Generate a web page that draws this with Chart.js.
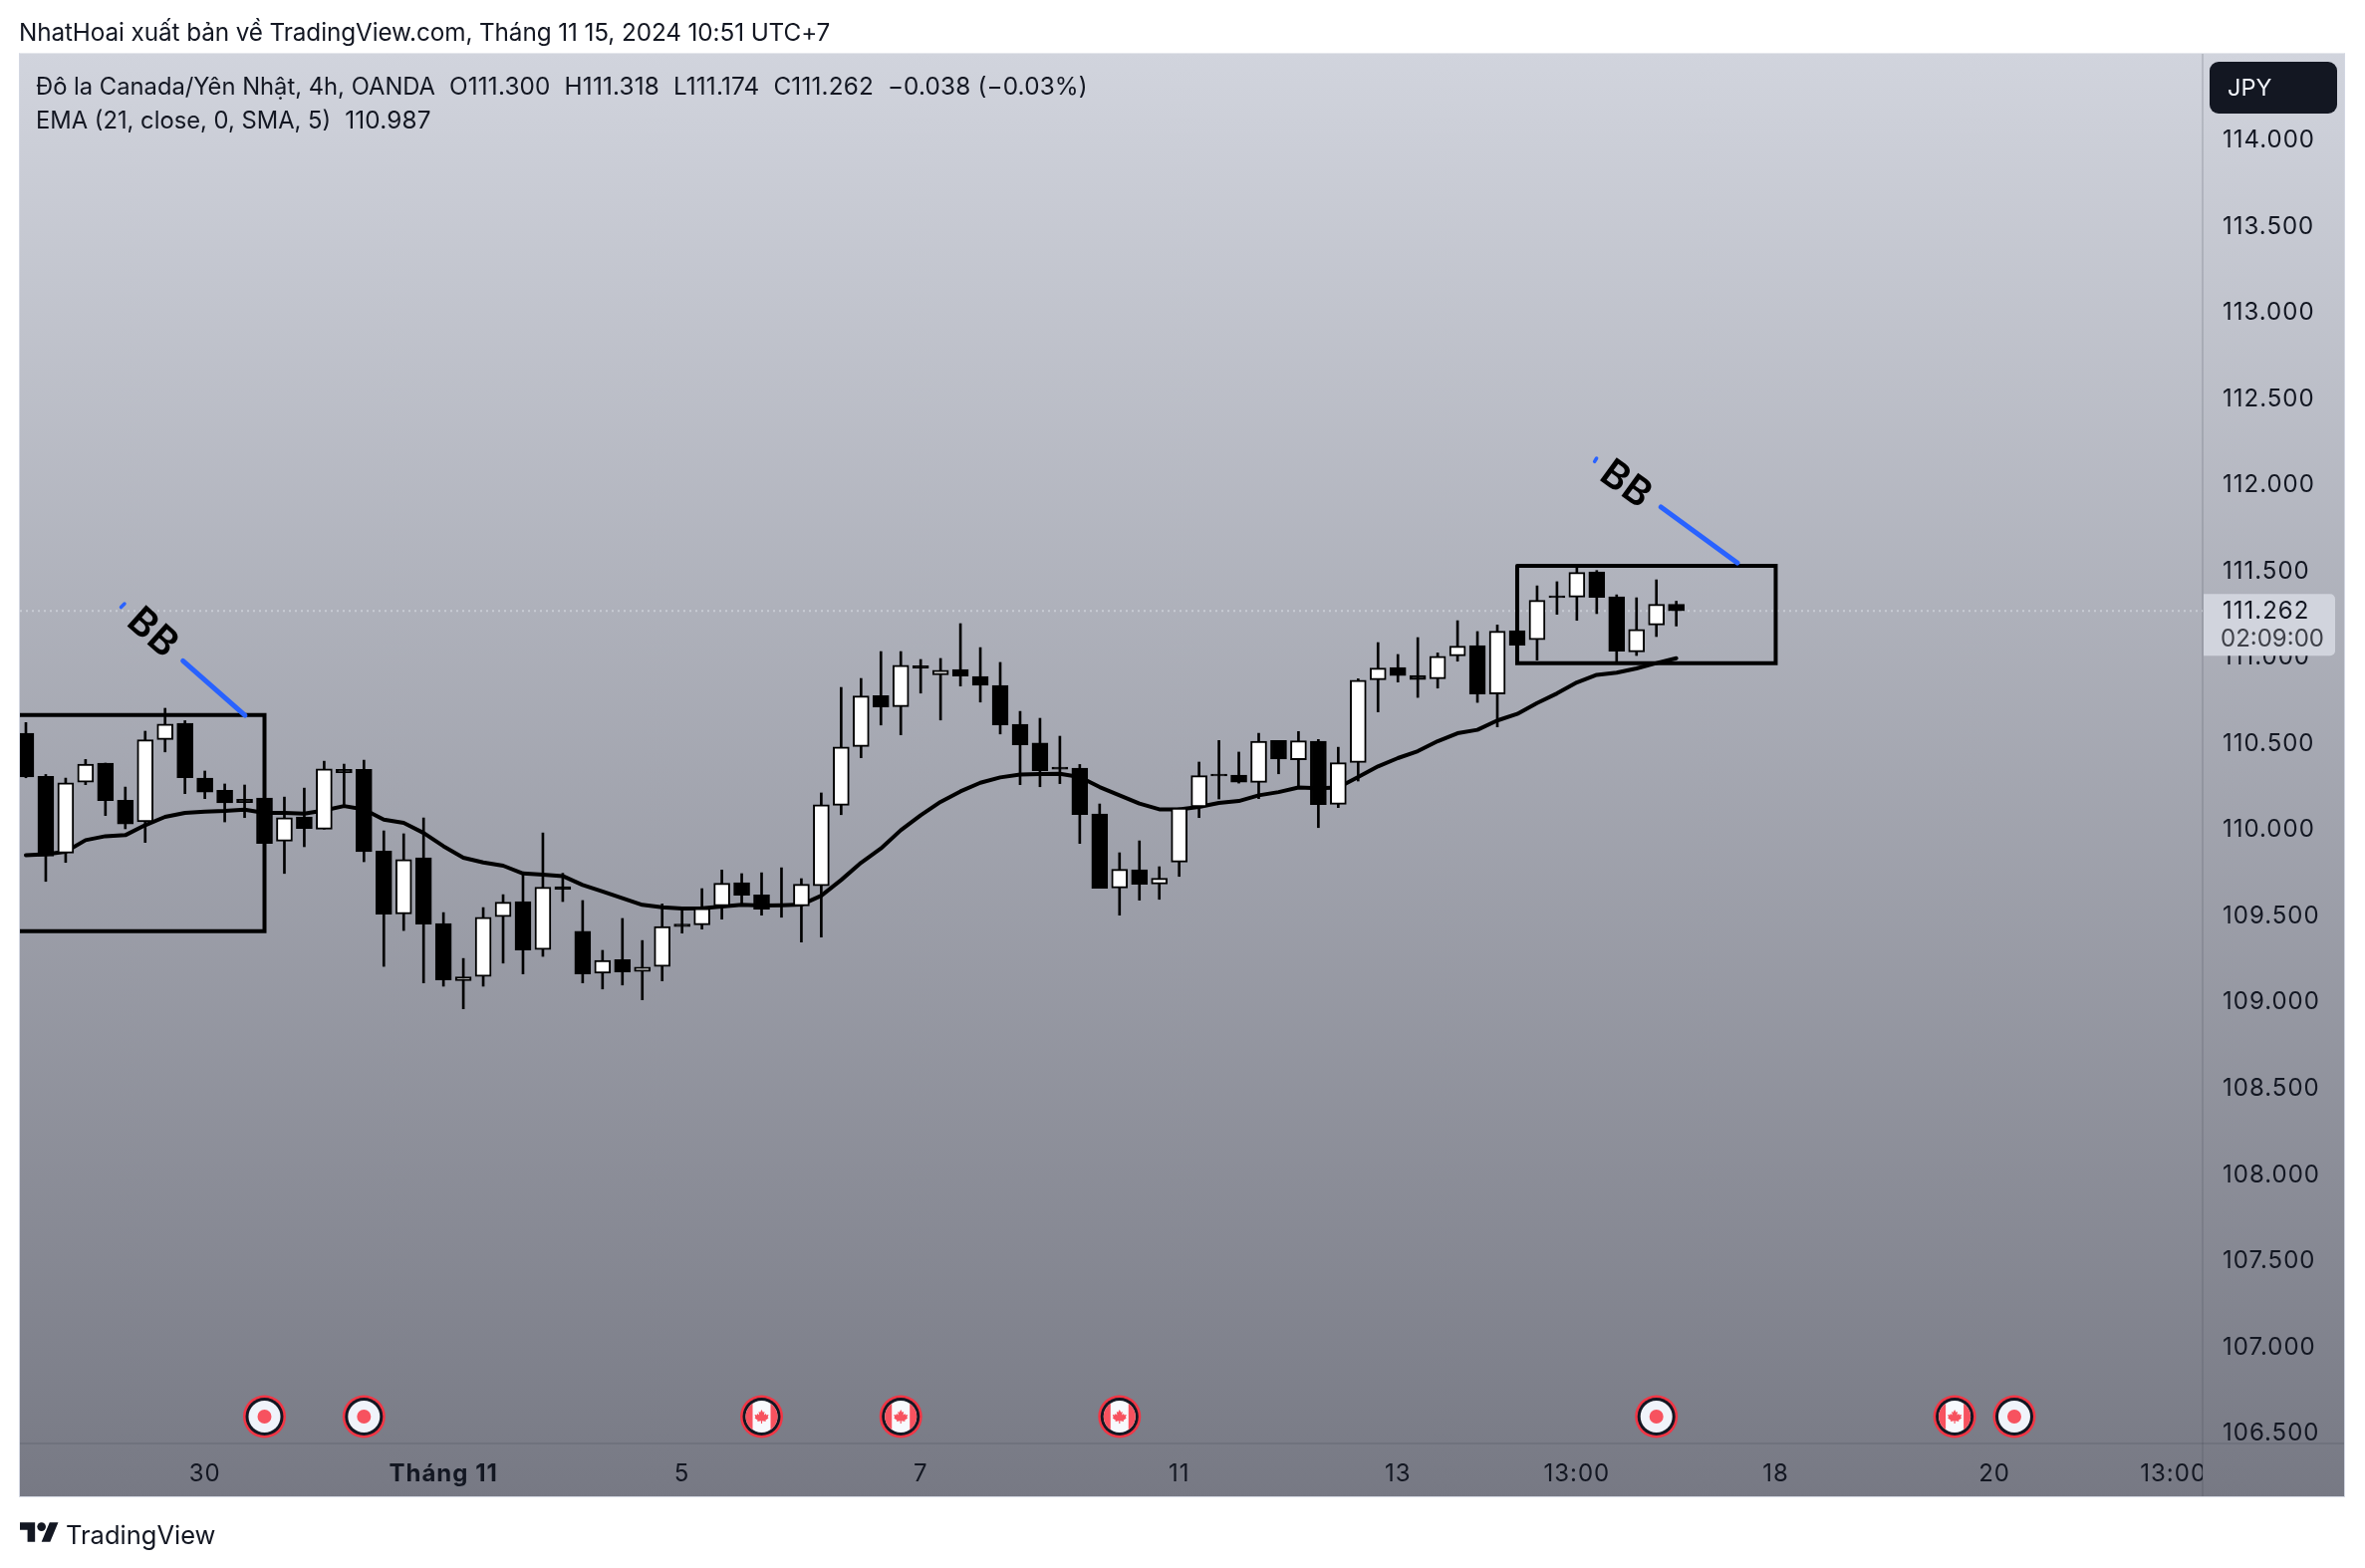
<!DOCTYPE html>
<html lang="vi">
<head>
<meta charset="utf-8">
<title>CAD/JPY 4h</title>
<script src="https://cdn.jsdelivr.net/npm/chart.js@4"></script>
<style>
  html, body { margin: 0; background: #fff; width: 2374px; height: 1574px; overflow: hidden; }
  body { font-family: Inter, "Noto Sans", sans-serif; color: #131722; position: relative; }
  .abs { position: absolute; white-space: pre; line-height: 1; }
  .name { font-size: 23.76px; }
  .vals { font-size: 24.3px; letter-spacing: .17px; }
  #panel { position: absolute; left: 20px; top: 53px; width: 2334px; height: 1450px;
           background: linear-gradient(180deg, #d1d4dd 0%, #777984 100%); }
  #panelEdge { position: absolute; left: 19px; top: 53px; width: 2335px; height: 1450px; box-sizing: border-box;
               border: 1px solid #d3d7e2; border-top-color: #e4e6ec; }
  #axisV { position: absolute; left: 2210px; top: 53px; width: 2px; height: 1450px; background: rgba(60,64,80,.17); }
  #axisH { position: absolute; left: 20px; top: 1448px; width: 2334px; height: 2px; background: rgba(60,64,80,.17); }
  canvas { position: absolute; left: 0; top: 0; }
  #unit { left: 2218px; top: 62px; width: 128px; height: 52px; background: #131722; border-radius: 9px; }
  #unitText { left: 2236px; top: 76px; font-size: 23.5px; color: #f0f3fa; }
</style>
</head>
<body>
<div id="panel"></div>
<div id="axisV"></div>
<div id="axisH"></div>
<canvas id="chart" width="2374" height="1574"></canvas>
<div id="panelEdge"></div>
<div class="abs" style="left:19px;top:20px;font-size:24.3px;letter-spacing:-.1px" id="published"></div>
<div class="abs" style="left:36px;top:74px"><span class="name" id="symbolName"></span><span class="vals" id="symbolValues"></span></div>
<div class="abs" style="left:36px;top:108px"><span class="name" id="emaName"></span><span class="vals" id="emaValue"></span></div>
<div class="abs" id="unit"></div>
<div class="abs" id="unitText">JPY</div>
<svg class="abs" style="left:20px;top:1528px" width="39" height="20" viewBox="0 4 36 18" fill="#131722">
  <path d="M14 22H7V11H0V4h14v18zM28 22h-8l7.5-18h8L28 22z"/><circle cx="20" cy="8" r="4"/>
</svg>
<div class="abs" style="left:66px;top:1528px;font-size:25.5px" id="brand"></div>

<script>
// CAD/JPY 4h candles, oldest first
const opens = [110.552,110.302,109.857,110.269,110.379,110.163,110.038,110.516,110.610,110.292,110.221,110.169,110.177,109.926,110.067,109.996,110.342,110.342,109.869,109.504,109.830,109.449,109.117,109.142,109.489,109.576,109.298,109.662,109.403,109.160,109.239,109.171,109.200,109.445,109.441,109.551,109.686,109.614,109.562,109.551,109.668,110.134,110.475,110.770,110.706,110.943,110.891,110.922,110.882,110.830,110.604,110.495,110.356,110.350,110.084,109.655,109.761,109.678,109.805,110.125,110.315,110.310,110.267,110.510,110.398,110.506,110.140,110.383,110.862,110.934,110.887,110.868,111.001,111.061,110.780,111.147,111.095,111.350,111.342,111.488,111.344,111.024,111.180,111.300];
const highs = [110.614,110.313,110.292,110.400,110.379,110.240,110.564,110.697,110.625,110.333,110.258,110.252,110.177,110.182,110.234,110.390,110.373,110.396,109.986,109.969,110.061,109.512,109.246,109.541,109.616,109.739,109.974,109.740,109.582,109.293,109.478,109.350,109.562,109.528,109.651,109.759,109.738,109.743,109.772,109.709,110.206,110.818,110.870,111.026,111.026,110.980,110.986,111.188,111.049,110.963,110.679,110.639,110.535,110.371,110.142,109.859,109.928,109.778,110.119,110.385,110.510,110.443,110.552,110.510,110.562,110.516,110.471,110.868,111.078,111.009,111.107,111.018,111.205,111.142,111.180,111.150,111.407,111.431,111.521,111.496,111.355,111.338,111.442,111.318];
const lows = [110.294,109.693,109.803,110.254,110.075,109.998,109.919,110.444,110.202,110.173,110.038,110.063,109.913,109.739,109.894,109.996,110.125,109.807,109.200,109.408,109.104,109.085,108.954,109.085,109.219,109.156,109.258,109.576,109.104,109.069,109.092,109.006,109.116,109.393,109.416,109.474,109.562,109.497,109.485,109.341,109.370,110.080,110.410,110.600,110.543,110.785,110.629,110.826,110.733,110.548,110.254,110.242,110.260,109.913,109.653,109.497,109.584,109.589,109.722,110.063,110.171,110.263,110.173,110.317,110.236,110.005,110.121,110.275,110.676,110.849,110.760,110.814,110.970,110.731,110.589,111.060,110.976,111.242,111.207,111.246,110.953,111.003,111.113,111.174];
const closes = [110.298,109.840,110.265,110.373,110.161,110.026,110.514,110.606,110.294,110.211,110.148,110.150,109.913,110.063,109.999,110.346,110.323,109.865,109.503,109.820,109.445,109.121,109.140,109.485,109.572,109.295,109.659,109.647,109.156,109.235,109.168,109.196,109.431,109.431,109.537,109.682,109.612,109.532,109.547,109.676,110.138,110.473,110.768,110.704,110.947,110.930,110.918,110.884,110.830,110.600,110.485,110.335,110.344,110.080,109.653,109.763,109.676,109.711,110.119,110.306,110.304,110.269,110.506,110.402,110.508,110.138,110.381,110.860,110.930,110.887,110.864,110.999,111.057,110.780,111.144,111.063,111.323,111.338,111.485,111.340,111.028,111.155,111.300,111.262];

// EMA(21) readings, one per candle
const emaValues = [109.845,109.851,109.865,109.932,109.955,109.961,110.019,110.067,110.090,110.098,110.102,110.109,110.090,110.090,110.086,110.105,110.130,110.111,110.051,110.032,109.974,109.897,109.830,109.803,109.784,109.739,109.732,109.724,109.672,109.634,109.595,109.557,109.543,109.535,109.537,109.547,109.557,109.553,109.555,109.558,109.610,109.701,109.801,109.884,109.990,110.076,110.154,110.215,110.265,110.296,110.313,110.315,110.317,110.298,110.240,110.192,110.144,110.111,110.111,110.125,110.148,110.159,110.192,110.211,110.238,110.233,110.237,110.298,110.360,110.408,110.448,110.506,110.552,110.572,110.626,110.664,110.727,110.783,110.847,110.891,110.903,110.928,110.959,110.987];

// Time axis: bar index of each labelled tick
const timeTickBars = [9, 21, 33, 45, 58, 69, 78, 88, 99, 108];
const timeTickLabels = ["30", "Tháng 11", "5", "7", "11", "13", "13:00", "18", "20", "13:00"];
const monthTickBar = 21;

// Price axis
const priceTicks = [106.5,107,107.5,108,108.5,109,109.5,110,110.5,111,111.5,112,112.5,113,113.5,114];
const priceMin = 106.433, priceMax = 114.4986;
const barMin = -0.3, barMax = 109.47;
const lastPrice = 111.262;
const countdown = "02:09:00";

// Economic calendar badges
const eventBars = [12, 17, 37, 44, 55, 82, 97, 100];
const eventKinds = ["dot", "dot", "ca", "ca", "ca", "dot", "ca", "dot"];

// Chart drawings, anchored as [bar, price]
const boxLeftX = [-3, 12, 12, -3];
const boxLeftY = [110.658, 110.658, 109.404, 109.404];
const boxRightX = [75, 88, 88, 75, 75];
const boxRightY = [111.523, 111.523, 110.958, 110.958, 111.523];
const arrowLeftX = [7.90, 11.02], arrowLeftY = [110.972, 110.656];
const stubLeftX = [4.785, 4.96], stubLeftY = [111.283, 111.303];
const arrowRightX = [82.23, 86.07], arrowRightY = [111.864, 111.540];
const stubRightX = [78.89, 78.99], stubRightY = [112.128, 112.147];
const noteBars = [6.41, 80.5], notePrices = [111.136, 111.998], noteAngles = [42, 36];
const noteText = "BB";

// Header and footer text
document.getElementById("published").textContent = "NhatHoai xuất bản về TradingView.com, Tháng 11 15, 2024 10:51 UTC+7";
document.getElementById("symbolName").textContent = "Đô la Canada/Yên Nhật, 4h, OANDA";
document.getElementById("symbolValues").textContent = "  O111.300  H111.318  L111.174  C111.262  −0.038 (−0.03%)";
document.getElementById("emaName").textContent = "EMA (21, close, 0, SMA, 5)";
document.getElementById("emaValue").textContent = "  110.987";
document.getElementById("brand").textContent = "TradingView";

const BLACK = "#000000", WHITE = "#ffffff", BLUE = "#2962ff", INK = "#131722";
const FONT = "Inter, 'Noto Sans', sans-serif";

const pairXY = (xs, ys) => xs.map((x, i) => ({ x, y: ys[i] }));
const drawing = (xs, ys, color, width, order) => ({
  type: "line", data: pairXY(xs, ys), borderColor: color, borderWidth: width,
  pointRadius: 0, fill: false, tension: 0, order, borderCapStyle: "round", borderJoinStyle: "miter"
});

// Rotated "BB" notes sitting on the blue trend segments
const notesPlugin = {
  id: "notes",
  afterDatasetsDraw(chart) {
    const { ctx, scales: { x, y } } = chart;
    noteBars.forEach((bar, i) => {
      ctx.save();
      ctx.translate(x.getPixelForValue(bar), y.getPixelForValue(notePrices[i]));
      ctx.rotate(noteAngles[i] * Math.PI / 180);
      ctx.font = "600 39px " + FONT;
      ctx.fillStyle = BLACK;
      ctx.textAlign = "center";
      ctx.textBaseline = "middle";
      ctx.fillText(noteText, 0, 1);
      ctx.restore();
    });
  }
};

// Maple leaf outline on a unit of 1 = half the leaf height
function mapleLeaf(ctx, cx, cy, r) {
  const pts = [[0,-1],[.2,-.6],[.42,-.72],[.34,-.2],[.6,-.42],[.68,-.22],[1,-.28],[.88,.1],[1,.2],[.55,.55],[.62,.72],[.08,.62],[.08,1],[-.08,1],[-.08,.62],[-.62,.72],[-.55,.55],[-1,.2],[-.88,.1],[-1,-.28],[-.68,-.22],[-.6,-.42],[-.34,-.2],[-.42,-.72],[-.2,-.6]];
  ctx.beginPath();
  pts.forEach(([px, py], i) => ctx[i ? "lineTo" : "moveTo"](cx + px * r, cy + py * r));
  ctx.closePath();
  ctx.fill();
}

// Calendar badges along the bottom of the pane
const eventsPlugin = {
  id: "events",
  afterDatasetsDraw(chart) {
    const { ctx, chartArea, scales: { x } } = chart;
    const cy = chartArea.bottom - 27;
    eventBars.forEach((bar, i) => {
      const cx = x.getPixelForValue(bar);
      ctx.save();
      ctx.beginPath(); ctx.arc(cx, cy, 21.5, 0, 2 * Math.PI); ctx.fillStyle = "#f23645"; ctx.fill();
      ctx.beginPath(); ctx.arc(cx, cy, 19, 0, 2 * Math.PI); ctx.fillStyle = INK; ctx.fill();
      ctx.beginPath(); ctx.arc(cx, cy, 16, 0, 2 * Math.PI); ctx.clip();
      if (eventKinds[i] === "dot") {
        ctx.fillStyle = "#f0f3fa"; ctx.fillRect(cx - 17, cy - 17, 34, 34);
        ctx.beginPath(); ctx.arc(cx, cy, 7, 0, 2 * Math.PI); ctx.fillStyle = "#f7525f"; ctx.fill();
      } else {
        ctx.fillStyle = "#f7f9fd"; ctx.fillRect(cx - 17, cy - 17, 34, 34);
        ctx.fillStyle = "#f7525f";
        ctx.fillRect(cx - 17, cy - 17, 8, 34);
        ctx.fillRect(cx + 9, cy - 17, 8, 34);
        mapleLeaf(ctx, cx, cy, 7);
      }
      ctx.restore();
    });
  }
};

// Last-price tag with the bar countdown, on the price axis
const priceTagPlugin = {
  id: "priceTag",
  afterDraw(chart) {
    const { ctx, chartArea, scales: { y } } = chart;
    const py = y.getPixelForValue(lastPrice);
    const left = chartArea.right + 1, top = py - 17, w = 132, h = 62;
    ctx.save();
    ctx.fillStyle = "#d1d4dd";
    ctx.beginPath();
    ctx.roundRect(left, top, w, h, [0, 5, 5, 0]);
    ctx.fill();
    ctx.font = "24px " + FONT;
    ctx.textAlign = "left";
    ctx.textBaseline = "middle";
    ctx.fillStyle = INK;
    ctx.fillText(lastPrice.toFixed(3), chartArea.right + 20, py + 1);
    ctx.letterSpacing = "0px";
    ctx.fillStyle = "#3e4048";
    ctx.fillText(countdown, chartArea.right + 18, py + 29);
    ctx.restore();
  }
};

// Time labels stop at the price axis; axis numerals are tracked a little wider
const axisText = {
  id: "axisText",
  beforeDraw(chart) {
    chart.ctx.letterSpacing = "1px";
    const s = chart.scales.x;
    s._computeLabelArea = () => ({ top: s.top, left: 0, bottom: s.bottom, right: chart.chartArea.right });
  }
};

new Chart(document.getElementById("chart"), {
  type: "bar",
  data: {
    datasets: [
      drawing(arrowLeftX, arrowLeftY, BLUE, 5, 1),
      drawing(stubLeftX, stubLeftY, BLUE, 3.5, 1),
      drawing(arrowRightX, arrowRightY, BLUE, 5, 1),
      drawing(stubRightX, stubRightY, BLUE, 3.5, 1),
      drawing(boxLeftX, boxLeftY, BLACK, 4, 2),
      drawing(boxRightX, boxRightY, BLACK, 4, 2),
      {
        label: "bodies", type: "bar", order: 3, grouped: false, barThickness: 16,
        data: opens.map((o, i) => ({ x: i, y: [o, closes[i]] })),
        backgroundColor: closes.map((c, i) => c >= opens[i] ? WHITE : BLACK),
        borderColor: BLACK, borderWidth: 2, borderSkipped: false
      },
      {
        label: "wicks", type: "bar", order: 4, grouped: false, barThickness: 2,
        data: lows.map((l, i) => ({ x: i, y: [l, highs[i]] })),
        backgroundColor: BLACK, borderWidth: 0
      },
      {
        label: "EMA", type: "line", order: 5, data: emaValues.map((v, i) => ({ x: i, y: v })),
        borderColor: BLACK, borderWidth: 4, pointRadius: 0, tension: 0, fill: false, borderJoinStyle: "round", borderCapStyle: "round"
      },
      {
        label: "last", type: "line", order: 6, data: pairXY([barMin, barMax], [lastPrice, lastPrice]),
        borderColor: "rgba(222,225,233,.55)", borderWidth: 2, borderDash: [2, 4], pointRadius: 0, fill: false
      }
    ]
  },
  plugins: [axisText, notesPlugin, eventsPlugin, priceTagPlugin],
  options: {
    responsive: false,
    animation: false,
    events: [],
    layout: { padding: { left: 20, top: 53, right: 20, bottom: 71 } },
    plugins: { legend: { display: false }, tooltip: { enabled: false } },
    scales: {
      x: {
        type: "linear", offset: false, min: barMin, max: barMax,
        grid: { display: false, offset: false, drawTicks: false },
        border: { display: false },
        afterBuildTicks: s => { s.ticks = timeTickBars.map(value => ({ value })); },
        afterFit: s => { s.height = 54; },
        ticks: {
          autoSkip: false, maxRotation: 0, minRotation: 0, padding: 16, color: INK,
          font: c => ({ family: FONT, size: 24, weight: c.tick && c.tick.value === monthTickBar ? "700" : "400" }),
          callback: (v, i) => timeTickLabels[i]
        }
      },
      y: {
        type: "linear", position: "right", min: priceMin, max: priceMax,
        grid: { display: false, drawTicks: false },
        border: { display: false },
        afterBuildTicks: s => { s.ticks = priceTicks.map(value => ({ value })); },
        afterFit: s => { s.width = 143; },
        ticks: {
          autoSkip: false, padding: 20, labelOffset: 1.5, color: INK, font: { family: FONT, size: 24 },
          callback: v => Number(v).toFixed(3)
        }
      }
    }
  }
});
</script>
</body>
</html>
